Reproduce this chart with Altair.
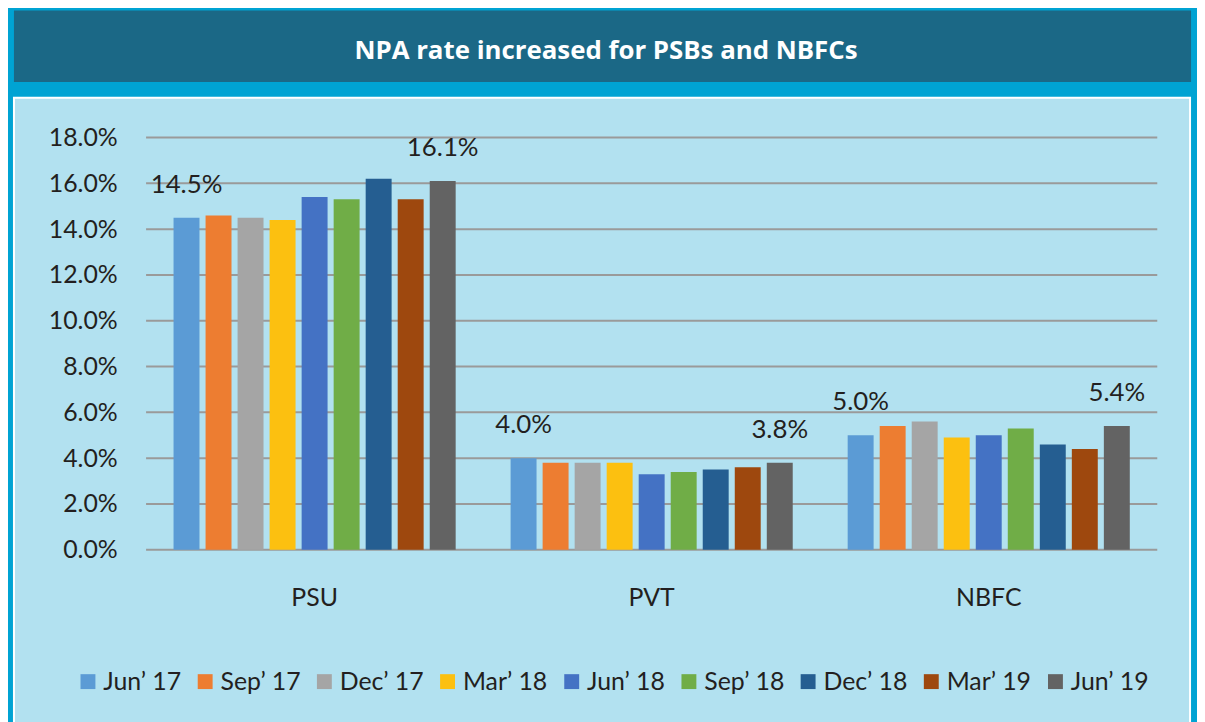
import altair as alt
import pandas as pd

categories = ["PSU", "PVT", "NBFC"]
periods = ["Jun’ 17", "Sep’ 17", "Dec’ 17", "Mar’ 18", "Jun’ 18",
           "Sep’ 18", "Dec’ 18", "Mar’ 19", "Jun’ 19"]
psu = [14.5, 14.6, 14.5, 14.4, 15.4, 15.3, 16.2, 15.3, 16.1]
pvt = [4.0, 3.8, 3.8, 3.8, 3.3, 3.4, 3.5, 3.6, 3.8]
nbfc = [5.0, 5.4, 5.6, 4.9, 5.0, 5.3, 4.6, 4.4, 5.4]
colors = ["#5b9bd5", "#ed7d31", "#a5a5a5", "#fcc010", "#4472c4",
          "#70ad47", "#255e91", "#9e480e", "#636363"]
labelled = ["Jun’ 17", "Jun’ 19"]
y_ticks = [0.0, 0.02, 0.04, 0.06, 0.08, 0.10, 0.12, 0.14, 0.16, 0.18]
title_text = "NPA rate increased for PSBs and NBFCs"

rows = []
for cat, vals in zip(categories, [psu, pvt, nbfc]):
    for p, v in zip(periods, vals):
        rows.append({"cat": cat, "period": p, "value": v / 100,
                     "label": f"{v:.1f}%" if p in labelled else ""})
df = pd.DataFrame(rows)
grid_df = pd.DataFrame({"value": y_ticks})

FONT = "Lato"
TXT = "#231f20"

deco = alt.Data(values=[{"k": 1}])

panel = alt.Chart(deco).mark_rect(fill="#b2e1f0", stroke="white", strokeWidth=2).encode(
    x=alt.value(-133), x2=alt.value(1051), y=alt.value(-40), y2=alt.value(600))
bar_top = alt.Chart(deco).mark_rect(fill="#1b6886").encode(
    x=alt.value(-133), x2=alt.value(1052), y=alt.value(-128), y2=alt.value(-56))
title = alt.Chart(deco).mark_text(font="Open Sans", fontWeight="bold", fontSize=26,
                                  color="white", baseline="middle", align="center").encode(
    x=alt.value(463), y=alt.value(-87), text=alt.value(title_text))

yscale = alt.Scale(domain=[0, 0.18], nice=False)
yaxis = alt.Axis(title=None, format=".1%", values=y_ticks, grid=False,
                 domain=False, ticks=False, labelPadding=29, labelFontSize=25,
                 labelFont=FONT, labelColor=TXT, zindex=1)
yenc = alt.Y("value:Q", scale=yscale, axis=yaxis)

grid = alt.Chart(grid_df).mark_rule(color="#9a9a9a", strokeWidth=2).encode(
    x=alt.value(0), x2=alt.value(1018), y=yenc)

xenc = alt.X("cat:N", sort=categories,
             scale=alt.Scale(paddingInner=0.163, paddingOuter=0.0815),
             axis=alt.Axis(title=None, labelAngle=0, domain=False, ticks=False,
                           labelPadding=36, labelFontSize=25, labelFont=FONT,
                           labelColor=TXT, zindex=1))
xoff = alt.XOffset("period:N", sort=periods,
                   scale=alt.Scale(domain=periods, paddingInner=0.19, paddingOuter=0))

bars = alt.Chart(df).mark_bar().encode(
    x=xenc, xOffset=xoff, y=yenc,
    color=alt.Color("period:N", sort=periods,
                    scale=alt.Scale(domain=periods, range=colors),
                    legend=alt.Legend(title=None, orient="none", direction="horizontal",
                                      legendX=-71, legendY=535, symbolType="square",
                                      symbolSize=225, symbolStrokeWidth=0,
                                      labelFontSize=25, labelFont=FONT, labelColor=TXT,
                                      labelOffset=3, columnPadding=11, columns=9)))

labels = alt.Chart(df).transform_filter(alt.datum.label != "").mark_text(
    font=FONT, fontSize=26, color=TXT, baseline="middle", dy=-33).encode(
    x=xenc, xOffset=xoff, y=yenc, text="label:N")

chart = alt.layer(panel, bar_top, title, grid, bars, labels).properties(
    width=1018, height=415,
    autosize=alt.AutoSizeParams(type="none"),
    padding={"left": 139, "top": 128, "right": 40, "bottom": 171},
    background="#00a3d3",
).configure_view(stroke=None)

chart.save("out.html", embed_options={"renderer": "svg", "actions": False})
